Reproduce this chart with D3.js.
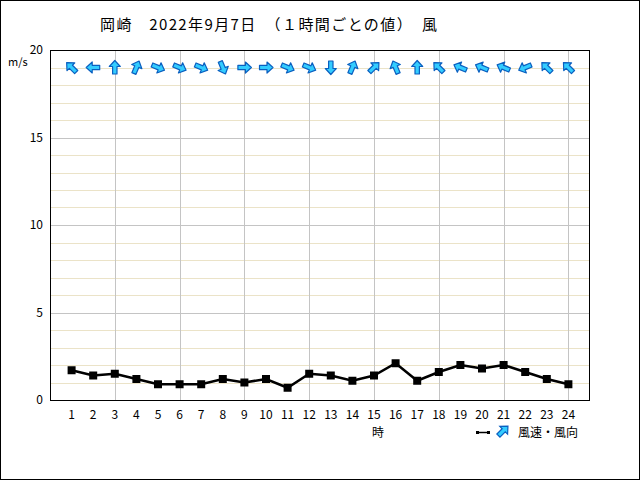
<!DOCTYPE html>
<html><head><meta charset="utf-8">
<script src="https://cdn.jsdelivr.net/npm/d3@7"></script>
<style>body{margin:0;background:#fff}svg{display:block}</style>
</head><body>
<svg id="c" width="640" height="480"></svg>
<script>
const hours = [1,2,3,4,5,6,7,8,9,10,11,12,13,14,15,16,17,18,19,20,21,22,23,24];
const speed = [1.7,1.4,1.5,1.2,0.9,0.9,0.9,1.2,1.0,1.2,0.7,1.5,1.4,1.1,1.4,2.1,1.1,1.6,2.0,1.8,2.0,1.6,1.2,0.9];
const direction = ["南東","東","南","南南西","西北西","西北西","西北西","北北西","西","西","西北西","西北西","北","南南西","南西","南南東","南","南東","東南東","東南東","東南東","東北東","南東","南東"];
const yTicks = [0,5,10,15,20];
const titleText = "岡崎　2022年9月7日　（１時間ごとの値）　風";
const compass = ["北","北北東","北東","東北東","東","東南東","南東","南南東","南","南南西","南西","西南西","西","西北西","北西","北北西"];

const svg = d3.select("#c");
const font = "'Noto Sans CJK JP', sans-serif";
svg.append("rect").attr("x",0.5).attr("y",0.5).attr("width",639).attr("height",479)
  .attr("fill","#fff").attr("stroke","#000");

const L=50,R=590,T=50,B=400;
const x = d3.scaleLinear().domain([0,25]).range([L,R]);
const y = d3.scaleLinear().domain([0,20]).range([B,T]);

// minor grid
const g = svg.append("g");
g.selectAll("line.minor").data(d3.range(1,20).filter(v=>v%5!==0)).join("line")
  .attr("x1",L).attr("x2",R).attr("y1",d=>Math.round(y(d))+0.5).attr("y2",d=>Math.round(y(d))+0.5)
  .attr("stroke","#ebe3c8");
g.selectAll("line.major").data([5,10,15]).join("line")
  .attr("x1",L).attr("x2",R).attr("y1",d=>Math.round(y(d))+0.5).attr("y2",d=>Math.round(y(d))+0.5)
  .attr("stroke","#c4c4c4");
g.selectAll("line.vx").data(hours.filter(h=>h%3===0)).join("line")
  .attr("y1",T).attr("y2",B).attr("x1",d=>Math.round(x(d))+0.5).attr("x2",d=>Math.round(x(d))+0.5)
  .attr("stroke","#c4c4c4");

svg.append("rect").attr("x",L+0.5).attr("y",T+0.5).attr("width",R-L-1).attr("height",B-T)
  .attr("fill","none").attr("stroke","#000");

// axes labels
svg.append("g").selectAll("text").data(yTicks).join("text")
  .attr("x",43).attr("y",d=>y(d)+4).attr("text-anchor","end")
  .attr("font-family",font).attr("font-size",12).text(d=>d);
svg.append("g").selectAll("text").data(hours).join("text")
  .attr("x",d=>x(d)).attr("y",419).attr("text-anchor","middle")
  .attr("font-family",font).attr("font-size",12).text(d=>d);
svg.append("text").attr("x",8).attr("y",66).attr("font-family",font).attr("font-size",11).text("m/s");
svg.append("text").attr("x",378).attr("y",437).attr("text-anchor","middle").attr("font-family",font).attr("font-size",12).text("時");
svg.append("text").attr("x",100).attr("y",30).attr("font-family",font).attr("font-size",15)
  .attr("textLength",337).attr("lengthAdjust","spacing").text(titleText);

// line
const line = d3.line().x((d,i)=>x(hours[i])).y(d=>y(d));
svg.append("path").datum(speed).attr("d",line).attr("fill","none").attr("stroke","#000").attr("stroke-width",2.5);
svg.append("g").selectAll("rect").data(speed).join("rect")
  .attr("x",(d,i)=>x(hours[i])-4).attr("y",d=>y(d)-4).attr("width",8).attr("height",8).attr("fill","#000");

// arrows
const arrowPath = "M0,-7 L5.5,-1 L2.2,-1 L2.2,6.5 L-2.2,6.5 L-2.2,-1 L-5.5,-1 Z";
svg.append("g").selectAll("path").data(direction).join("path")
  .attr("d",arrowPath)
  .attr("transform",(d,i)=>`translate(${x(hours[i])},${y(19)}) rotate(${compass.indexOf(d)*22.5+180})`)
  .attr("fill","#33ccff").attr("stroke","#0a5fc0").attr("stroke-width",1.2).attr("stroke-linejoin","round");

// legend
svg.append("line").attr("x1",478).attr("x2",488).attr("y1",432.5).attr("y2",432.5).attr("stroke","#000").attr("stroke-width",1.5);
svg.append("rect").attr("x",476).attr("y",431).attr("width",3).attr("height",3).attr("fill","#000");
svg.append("rect").attr("x",487).attr("y",431).attr("width",3).attr("height",3).attr("fill","#000");
svg.append("path").attr("d",arrowPath).attr("transform","translate(503,431) rotate(45)")
  .attr("fill","#33ccff").attr("stroke","#0a5fc0").attr("stroke-width",1.2);
svg.append("text").attr("x",518).attr("y",437).attr("font-family",font).attr("font-size",12).text("風速・風向");
</script>
</body></html>
